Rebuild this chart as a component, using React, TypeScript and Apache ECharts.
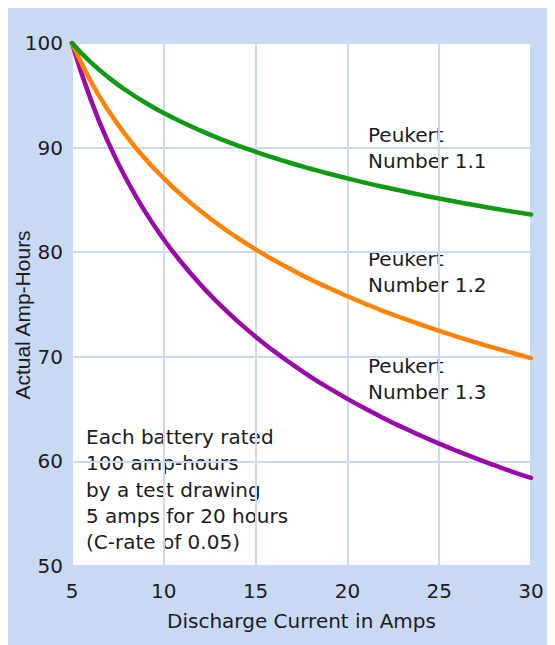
import React, { useEffect, useRef } from "react";
import * as echarts from "echarts";

const currents = [5, 6, 7, 8, 9, 10, 11, 12, 13, 14, 15, 16, 17, 18, 19, 20, 21, 22, 23, 24, 25, 26, 27, 28, 29, 30];
const peukert11 = [100, 98.19, 96.69, 95.41, 94.29, 93.3, 92.42, 91.62, 90.89, 90.22, 89.6, 89.02, 88.48, 87.98, 87.5, 87.06, 86.63, 86.23, 85.85, 85.48, 85.13, 84.8, 84.48, 84.17, 83.88, 83.6];
const peukert12 = [100, 96.42, 93.49, 91.03, 88.91, 87.06, 85.41, 83.94, 82.6, 81.39, 80.27, 79.24, 78.29, 77.4, 76.57, 75.79, 75.05, 74.35, 73.7, 73.07, 72.48, 71.91, 71.37, 70.85, 70.36, 69.88];
const peukert13 = [100, 94.68, 90.4, 86.85, 83.83, 81.22, 78.94, 76.9, 75.08, 73.43, 71.92, 70.54, 69.27, 68.09, 67.0, 65.98, 65.02, 64.11, 63.26, 62.46, 61.7, 60.98, 60.29, 59.64, 59.01, 58.42];
const seriesNames = ["Peukert Number 1.1", "Peukert Number 1.2", "Peukert Number 1.3"];
const seriesColors = ["#0f9b0f", "#ff8200", "#9a0aa8"];
const noteLines = ["Each battery rated", "100 amp-hours", "by a test drawing", "5 amps for 20 hours", "(C-rate of 0.05)"];
const xTitle = "Discharge Current in Amps";
const yTitle = "Actual Amp-Hours";

const FONT = "'DejaVu Sans', sans-serif";
const TEXT = "#1c1c1c";

export default function App() {
  const ref = useRef<HTMLDivElement>(null);
  useEffect(() => {
    if (!ref.current) return;
    const chart = echarts.init(ref.current, null, { renderer: "svg" });
    const all = [peukert11, peukert12, peukert13];
    chart.setOption({
      animation: false,
      backgroundColor: "#c9d8f3",
      grid: {
        left: 65,
        top: 35,
        right: 24,
        bottom: 79,
        show: true,
        backgroundColor: "#ffffff",
        borderWidth: 0,
      },
      xAxis: {
        type: "value",
        min: 5,
        max: 30,
        interval: 5,
        name: xTitle,
        nameLocation: "middle",
        nameGap: 45,
        nameTextStyle: { fontFamily: FONT, fontSize: 20, color: TEXT },
        axisLine: { show: false },
        axisTick: { show: false },
        axisLabel: { fontFamily: FONT, fontSize: 20, color: TEXT, margin: 15 },
        splitLine: { show: true, lineStyle: { color: "#cbd9f6", width: 2 } },
      },
      yAxis: {
        type: "value",
        min: 50,
        max: 100,
        interval: 10,
        axisLine: { show: false },
        axisTick: { show: false },
        axisLabel: { fontFamily: FONT, fontSize: 20, color: TEXT, margin: 9, padding: [0, 0, 6, 0] },
        splitLine: { show: true, lineStyle: { color: "#cbd9f6", width: 2 } },
      },
      series: all.map((vals, i) => ({
        name: seriesNames[i],
        type: "line",
        data: currents.map((c, j) => [c, vals[j]]),
        smooth: true,
        showSymbol: false,
        symbol: "none",
        lineStyle: { color: seriesColors[i], width: 4.5, cap: "round" },
        z: 3 - i + 2,
      })),
      graphic: [
        {
          type: "text",
          left: 361,
          top: 114,
          style: { text: "Peukert\nNumber 1.1", font: `20px ${FONT}`, fill: TEXT, lineHeight: 26 },
        },
        {
          type: "text",
          left: 361,
          top: 238,
          style: { text: "Peukert\nNumber 1.2", font: `20px ${FONT}`, fill: TEXT, lineHeight: 26 },
        },
        {
          type: "text",
          left: 361,
          top: 345,
          style: { text: "Peukert\nNumber 1.3", font: `20px ${FONT}`, fill: TEXT, lineHeight: 26 },
        },
        {
          type: "text",
          left: 79,
          top: 416,
          style: { text: noteLines.join("\n"), font: `20px ${FONT}`, fill: TEXT, lineHeight: 26.3 },
        },
        {
          type: "text",
          x: 15,
          y: 307,
          rotation: Math.PI / 2,
          style: {
            text: yTitle,
            font: `21px 'Liberation Sans', Arial, sans-serif`,
            fill: TEXT,
            align: "center",
            verticalAlign: "middle",
          },
        },
      ],
    });
    return () => chart.dispose();
  }, []);
  return (
    <div
      ref={ref}
      style={{ width: 548, height: 637, marginLeft: -1 }}
    />
  );
}
